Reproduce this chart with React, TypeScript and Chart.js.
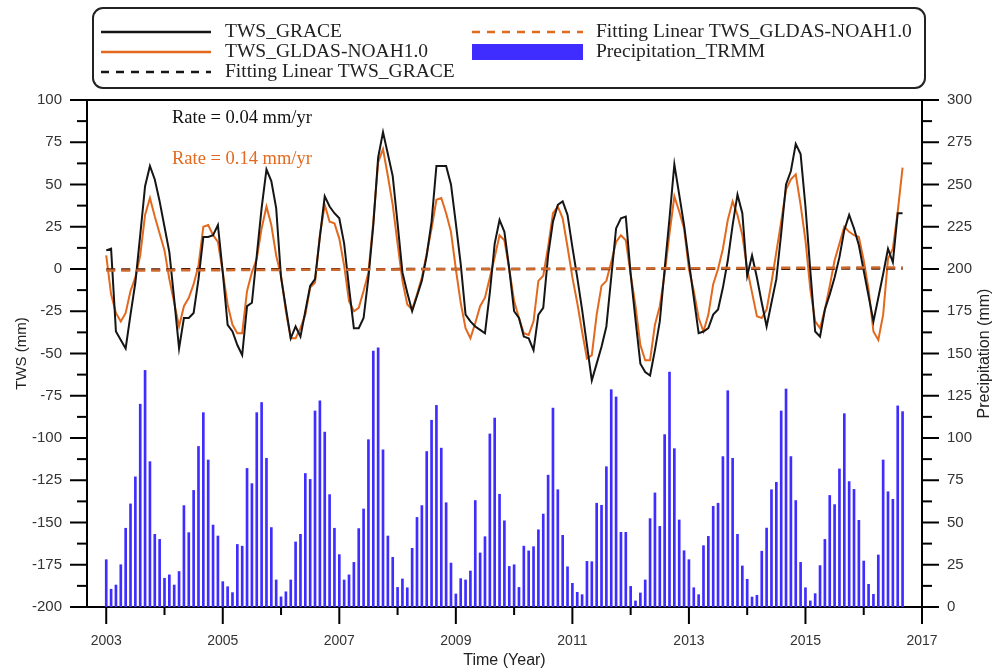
import React, { useEffect, useRef } from 'react';
import { Chart, registerables } from 'chart.js';

Chart.register(...registerables);

// ---------------- data ----------------
const START_YEAR = 2003; // first month: Jan 2003, monthly steps
const X_MIN = 2002.67;
const X_MAX = 2017;

const precipitationTRMM = [
  28, 10.5, 13, 25, 46.6, 61, 77, 120, 140, 86, 43, 40,
  17, 19, 13, 21, 60, 44, 69, 95, 115, 87, 48.5, 42,
  15, 12, 8.5, 37, 36, 82, 73, 115, 121, 88, 47, 16,
  6, 9, 16, 38.5, 43, 79, 75.5, 116, 122, 103.5, 66.5, 46.6,
  31, 16, 19, 26.4, 46.4, 58, 99, 151.5, 153.3, 93, 42, 29.4,
  11.6, 16.6, 11.4, 34.7, 53, 60, 92, 110.5, 119.3, 94, 61.7, 26,
  7.7, 16.8, 16, 21.3, 63, 32, 41.6, 102.4, 111.8, 66.7, 51, 24,
  25, 11.6, 36, 33.2, 35.7, 45.7, 55, 78, 117.7, 69.4, 42.4, 23.8,
  14, 8.7, 7.3, 27, 26.8, 61.4, 60.2, 83, 128.6, 124.3, 44.2, 44.2,
  12.2, 3.6, 8.3, 16, 52.3, 67.5, 47.7, 102, 139, 93.7, 51.5, 33.3,
  28, 11.4, 7.3, 36.3, 41.8, 59.6, 61.4, 89, 128, 88, 43, 24.3,
  16.4, 5.9, 6.9, 33, 46.7, 69.4, 73.8, 116, 129, 89, 63, 26.4,
  11.4, 3.6, 7.9, 24.5, 40, 66, 60.6, 81.7, 114.4, 74.2, 69.6, 51.3,
  27.2, 13.4, 7.5, 30.8, 87, 68.2, 63.7, 119, 115.6,
];

const twsGRACE = [
  11, 12, -37, -42, -47, -27, -8, 20, 49, 61, 53, 40,
  25, 10, -18, -47, -29, -29, -26, -6, 19, 19, 20, 26,
  -2, -33, -37, -45, -51, -22, -20, 8, 36, 59, 52, 36,
  -5, -23, -41, -34, -40, -25, -10, -6, 19, 43, 37, 33,
  30, 15, -11, -35, -35, -29, -5, 26, 66, 81, 68, 55,
  27, -2, -14, -25, -16, -7, 8, 28, 61, 61, 61, 50,
  27, 3, -27, -31, -34, -36, -38, -14, 15, 29, 22, 0,
  -25, -29, -40, -41, -48, -27, -23, 8, 28, 38, 40, 32,
  13, -5, -24, -45, -66, -56, -46, -34, -5, 24, 30, 31,
  -3, -30, -56, -61, -63, -48, -31, 0, 30, 62, 44, 26,
  4, -17, -38, -37, -35, -27, -24, -11, 5, 26, 44, 33,
  -4, 8, -5, -20, -34, -20, -6, 21, 50, 58, 74, 68,
  37, -1, -37, -40, -24, -15, -5, 7, 23, 32, 24, 14,
  -1, -16, -31, -17, -3, 12, 4, 33, 33,
];

const twsGLDAS = [
  8, -15, -26, -31, -26, -13, -5, 8, 32, 42, 31, 21,
  11, -6, -20, -34, -22, -17, -9, 2, 25, 26, 20, 16,
  -2, -21, -33, -38, -38, -13, -2, 6, 24, 37, 26, 8,
  -4, -25, -41, -41, -35, -27, -11, -8, 20, 38, 28, 27,
  18, 2, -19, -25, -23, -13, -2, 28, 63, 71, 55, 38,
  15, -7, -21, -24, -15, -5, 9, 24, 41, 42, 33, 22,
  0, -20, -35, -41, -32, -22, -17, -5, 7, 20, 17, 0,
  -19, -29, -38, -39, -31, -7, -4, 13, 33, 37, 30, 13,
  -5, -20, -37, -53, -51, -27, -10, -7, 4, 16, 20, 17,
  -3, -22, -45, -54, -54, -33, -22, -3, 21, 43, 34, 24,
  0, -13, -29, -37, -27, -9, 0, 12, 29, 40, 32, 20,
  0, -14, -28, -29, -24, -8, 10, 28, 47, 53, 56, 38,
  17, -12, -31, -35, -24, -10, 5, 15, 25, 22, 20, 19,
  5, -12, -37, -42, -27, 6, 12, 34, 60,
];

const fitYears = [2003, 2016.67];
const fitGRACE = [-0.27, 0.27];
const fitGLDAS = [-0.96, 0.96];

const yearTicks = [2003, 2005, 2007, 2009, 2011, 2013, 2015, 2017];
const yearMinorTicks = [2004, 2006, 2008, 2010, 2012, 2014, 2016];
const twsTicks = [-200, -175, -150, -125, -100, -75, -50, -25, 0, 25, 50, 75, 100];
const precipTicks = [0, 25, 50, 75, 100, 125, 150, 175, 200, 225, 250, 275, 300];

const LABEL_GRACE = 'TWS_GRACE';
const LABEL_GLDAS = 'TWS_GLDAS-NOAH1.0';
const LABEL_FIT_GRACE = 'Fitting Linear TWS_GRACE';
const LABEL_FIT_GLDAS = 'Fitting Linear TWS_GLDAS-NOAH1.0';
const LABEL_PRECIP = 'Precipitation_TRMM';
const RATE_GRACE = 'Rate = 0.04 mm/yr';
const RATE_GLDAS = 'Rate = 0.14 mm/yr';
const TITLE_X = 'Time (Year)';
const TITLE_Y = 'TWS (mm)';
const TITLE_Y2 = 'Precipitation (mm)';

// ---------------- styles ----------------
const BLACK = '#151515';
const ORANGE = '#e2691e';
const FIT_ORANGE = '#cf6a2c';
const FIT_DARK = '#4a1c08';
const BLUE = '#3f2dff';
const SANS = '"Liberation Sans", Arial, sans-serif';
const SERIF = '"Liberation Serif", "Times New Roman", serif';

const monthX = (i: number) => START_YEAR + i / 12;

const decorPlugin = {
  id: 'decor',
  afterDraw(chart: any) {
    const { ctx, chartArea: ca, scales } = chart;
    ctx.save();
    ctx.strokeStyle = '#000';
    ctx.lineWidth = 2;
    ctx.lineCap = 'butt';
    // top frame line
    ctx.beginPath();
    ctx.moveTo(ca.left - 1, ca.top);
    ctx.lineTo(ca.right + 1, ca.top);
    ctx.stroke();

    // left ticks (major + minor)
    for (let i = 0; i < twsTicks.length; i++) {
      const v = twsTicks[i];
      const y = scales.y.getPixelForValue(v);
      ctx.beginPath(); ctx.moveTo(ca.left - 17, y); ctx.lineTo(ca.left, y); ctx.stroke();
      if (i < twsTicks.length - 1) {
        const ym = scales.y.getPixelForValue((v + twsTicks[i + 1]) / 2);
        ctx.beginPath(); ctx.moveTo(ca.left - 10, ym); ctx.lineTo(ca.left, ym); ctx.stroke();
      }
    }
    // right ticks
    for (let i = 0; i < precipTicks.length; i++) {
      const v = precipTicks[i];
      const y = scales.y2.getPixelForValue(v);
      ctx.beginPath(); ctx.moveTo(ca.right, y); ctx.lineTo(ca.right + 17, y); ctx.stroke();
      if (i < precipTicks.length - 1) {
        const ym = scales.y2.getPixelForValue((v + precipTicks[i + 1]) / 2);
        ctx.beginPath(); ctx.moveTo(ca.right, ym); ctx.lineTo(ca.right + 10, ym); ctx.stroke();
      }
    }
    // bottom ticks
    yearTicks.forEach((yr) => {
      const x = scales.x.getPixelForValue(yr);
      ctx.beginPath(); ctx.moveTo(x, ca.bottom); ctx.lineTo(x, ca.bottom + 17); ctx.stroke();
    });
    yearMinorTicks.forEach((yr) => {
      const x = scales.x.getPixelForValue(yr);
      ctx.beginPath(); ctx.moveTo(x, ca.bottom); ctx.lineTo(x, ca.bottom + 8); ctx.stroke();
    });

    // right axis title (reads bottom to top)
    ctx.save();
    ctx.translate(985, (ca.top + ca.bottom) / 2);
    ctx.rotate(-Math.PI / 2);
    ctx.fillStyle = '#222';
    ctx.font = `16px ${SANS}`;
    ctx.textAlign = 'center';
    ctx.textBaseline = 'middle';
    ctx.fillText(TITLE_Y2, 0, 0);
    ctx.restore();

    // rate annotations
    ctx.font = `18.5px ${SERIF}`;
    ctx.textAlign = 'left';
    ctx.textBaseline = 'middle';
    ctx.fillStyle = '#111';
    ctx.fillText(RATE_GRACE, 172, 118);
    ctx.fillStyle = ORANGE;
    ctx.fillText(RATE_GLDAS, 172, 159);

    // legend box
    ctx.lineWidth = 2;
    ctx.strokeStyle = '#222';
    ctx.beginPath();
    if ((ctx as any).roundRect) {
      (ctx as any).roundRect(93, 8, 832, 80, 10);
    } else {
      ctx.rect(93, 8, 832, 80);
    }
    ctx.stroke();

    const rows = [32, 52, 72];
    const c1 = [101, 211, 225];
    const c2 = [472, 583, 596];
    const sample = (x0: number, x1: number, y: number, color: string, dash: number[]) => {
      ctx.save();
      ctx.strokeStyle = color;
      ctx.lineWidth = 2.5;
      ctx.setLineDash(dash);
      ctx.beginPath(); ctx.moveTo(x0, y); ctx.lineTo(x1, y); ctx.stroke();
      ctx.restore();
    };
    sample(c1[0], c1[1], rows[0], BLACK, []);
    sample(c1[0], c1[1], rows[1], ORANGE, []);
    sample(c1[0], c1[1], rows[2], BLACK, [8, 7]);
    sample(c2[0], c2[1], rows[0], ORANGE, [8, 7]);
    ctx.fillStyle = BLUE;
    ctx.fillRect(c2[0], rows[1] - 8, c2[1] - c2[0], 16);

    ctx.font = `19.5px ${SERIF}`;
    ctx.fillStyle = '#222';
    ctx.textBaseline = 'middle';
    ctx.fillText(LABEL_GRACE, c1[2], rows[0]);
    ctx.fillText(LABEL_GLDAS, c1[2], rows[1]);
    ctx.fillText(LABEL_FIT_GRACE, c1[2], rows[2]);
    ctx.fillText(LABEL_FIT_GLDAS, c2[2], rows[0]);
    ctx.fillText(LABEL_PRECIP, c2[2], rows[1]);
    ctx.restore();
  },
};

export default function App() {
  const ref = useRef<HTMLCanvasElement | null>(null);

  useEffect(() => {
    const canvas = ref.current;
    if (!canvas) return;
    const tickFont = { family: SANS, size: 15 };
    const chart = new Chart(canvas, {
      type: 'line',
      data: {
        datasets: [
          {
            type: 'line',
            label: LABEL_GRACE,
            data: twsGRACE.map((v, i) => ({ x: monthX(i), y: v })),
            borderColor: BLACK,
            borderWidth: 2,
            pointRadius: 0,
            tension: 0,
            yAxisID: 'y',
            order: 2,
          },
          {
            type: 'line',
            label: LABEL_GLDAS,
            data: twsGLDAS.map((v, i) => ({ x: monthX(i), y: v })),
            borderColor: ORANGE,
            borderWidth: 2,
            pointRadius: 0,
            tension: 0,
            yAxisID: 'y',
            order: 3,
          },
          {
            type: 'line',
            label: LABEL_FIT_GRACE,
            data: fitYears.map((x, i) => ({ x, y: fitGRACE[i] })),
            borderColor: FIT_DARK,
            borderWidth: 2.5,
            borderDash: [9, 6],
            pointRadius: 0,
            yAxisID: 'y',
            order: 1,
          },
          {
            type: 'line',
            label: LABEL_FIT_GLDAS,
            data: fitYears.map((x, i) => ({ x, y: fitGLDAS[i] })),
            borderColor: FIT_ORANGE,
            borderWidth: 2.5,
            borderDash: [9, 6],
            pointRadius: 0,
            yAxisID: 'y',
            order: 0,
          },
          {
            type: 'bar',
            label: LABEL_PRECIP,
            data: precipitationTRMM.map((v, i) => ({ x: monthX(i), y: v })) as any,
            backgroundColor: BLUE,
            borderWidth: 0,
            barThickness: 2,
            yAxisID: 'y2',
            order: 5,
          } as any,
        ],
      },
      options: {
        responsive: false,
        animation: false,
        devicePixelRatio: 1,
        layout: { padding: { top: 100, left: 0, right: 0, bottom: 0 } },
        plugins: {
          legend: { display: false },
          tooltip: { enabled: false },
          title: { display: false },
        },
        scales: {
          x: {
            type: 'linear',
            min: X_MIN,
            max: X_MAX,
            offset: false,
            grid: { display: false, drawTicks: false },
            border: { display: true, color: '#000', width: 2 },
            ticks: {
              autoSkip: false,
              maxRotation: 0,
              padding: 26,
              color: '#333',
              font: { family: SANS, size: 14 },
              callback: (v: any) => String(v),
            },
            title: {
              display: true,
              text: TITLE_X,
              color: '#222',
              font: { family: SANS, size: 16, lineHeight: 1.1 },
              padding: { top: 0, bottom: 0 },
            },
            afterBuildTicks: (s: any) => {
              s.ticks = yearTicks.map((v) => ({ value: v }));
            },
            afterFit: (s: any) => {
              s.height = 62;
            },
          },
          y: {
            type: 'linear',
            position: 'left',
            min: -200,
            max: 100,
            grid: { display: false, drawTicks: false },
            border: { display: true, color: '#000', width: 2 },
            ticks: {
              autoSkip: false,
              padding: 25,
              color: '#333',
              font: tickFont,
              callback: (v: any) => String(v),
            },
            title: {
              display: true,
              text: TITLE_Y,
              color: '#222',
              font: { family: SANS, size: 15, lineHeight: 1.2 },
              padding: { top: 13, bottom: 0 },
            },
            afterBuildTicks: (s: any) => {
              s.ticks = twsTicks.map((v) => ({ value: v }));
            },
            afterFit: (s: any) => {
              s.width = 87;
            },
          },
          y2: {
            type: 'linear',
            position: 'right',
            min: 0,
            max: 300,
            grid: { display: false, drawTicks: false },
            border: { display: true, color: '#000', width: 2 },
            ticks: {
              autoSkip: false,
              padding: 25,
              color: '#333',
              font: tickFont,
              callback: (v: any) => String(v),
            },
            afterBuildTicks: (s: any) => {
              s.ticks = precipTicks.map((v) => ({ value: v }));
            },
            afterFit: (s: any) => {
              s.width = 71;
            },
          },
        },
      } as any,
      plugins: [decorPlugin],
    });
    return () => chart.destroy();
  }, []);

  return (
    <div style={{ position: 'fixed', left: 0, top: 0, width: 993, height: 669, background: '#fff' }}>
      <canvas ref={ref} width={993} height={669} style={{ width: 993, height: 669, display: 'block' }} />
    </div>
  );
}
